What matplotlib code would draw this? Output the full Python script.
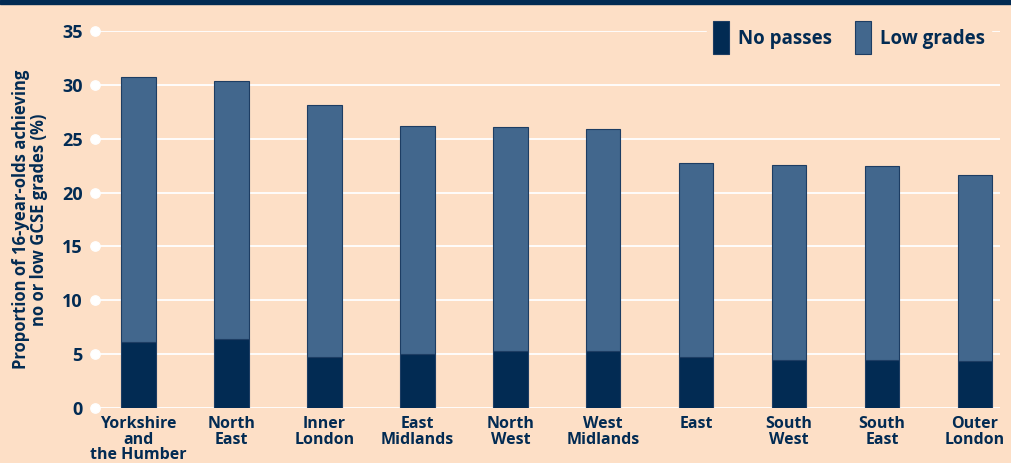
import numpy as np
import matplotlib
matplotlib.use('Agg')
import matplotlib.pyplot as plt
from matplotlib.patches import Rectangle

regions = ['Yorkshire\nand\nthe Humber', 'North\nEast', 'Inner\nLondon', 'East\nMidlands',
           'North\nWest', 'West\nMidlands', 'East', 'South\nWest', 'South\nEast', 'Outer\nLondon']
no_passes = [6.1, 6.4, 4.7, 5.0, 5.3, 5.3, 4.7, 4.5, 4.5, 4.4]
totals = [30.7, 30.4, 28.1, 26.2, 26.1, 25.9, 22.7, 22.6, 22.5, 21.6]
low_grades = [t - n for t, n in zip(totals, no_passes)]
yticks = [0, 5, 10, 15, 20, 25, 30, 35]

bg = '#fddfc6'
navy = '#022b53'
steel = '#42678d'

plt.rcParams['font.family'] = ['Open Sans', 'DejaVu Sans']
plt.rcParams['font.weight'] = 'bold'

fig = plt.figure(figsize=(10.12, 4.63), dpi=100, facecolor=bg)
ax = fig.add_axes([95 / 1012, 55 / 463, 905 / 1012, 377 / 463])
ax.set_facecolor(bg)

# navy band on top
fig.patches.append(Rectangle((0, 1 - 4 / 463), 1, 4 / 463, transform=fig.transFigure,
                             color=navy, zorder=0))

x = np.arange(len(regions))
w = 0.37
ax.bar(x, no_passes, w, color=navy, edgecolor='#1d3d63', lw=0.8, label='No passes', zorder=3)
ax.bar(x, low_grades, w, bottom=no_passes, color=steel, edgecolor='#1d3d63', lw=0.8,
       label='Low grades', zorder=3)

ax.set_xlim(-0.47, 9.27)
ax.set_ylim(0, 35)
for y in yticks:
    ax.axhline(y, color='white', lw=1.3, zorder=1)
ax.scatter([-0.47] * len(yticks), yticks, s=45, color='white', zorder=4, clip_on=False)

ax.set_yticks(yticks)
ax.set_yticklabels([str(v) for v in yticks], fontsize=13, color=navy, fontweight='bold')
ax.set_xticks(x)
ax.set_xticklabels(regions, fontsize=11.5, color=navy, fontweight='bold', linespacing=0.95)
ax.tick_params(length=0)
ax.tick_params(axis='y', pad=9)
ax.tick_params(axis='x', pad=6)
for s in ax.spines.values():
    s.set_visible(False)

ax.set_ylabel('Proportion of 16-year-olds achieving\nno or low GCSE grades (%)',
              fontsize=12, color=navy, fontweight='bold', linespacing=1.0, labelpad=10)

leg = ax.legend(ncol=2, loc='upper right', bbox_to_anchor=(1.0, 1.065), frameon=True,
                facecolor=bg, edgecolor=bg, framealpha=1, fontsize=13.5,
                handleheight=2.3, handlelength=0.85, handletextpad=0.5, columnspacing=1.2,
                borderpad=0.3)
for t in leg.get_texts():
    t.set_color(navy)
    t.set_fontweight('bold')

plt.savefig('out.png', dpi=100, facecolor=bg)
